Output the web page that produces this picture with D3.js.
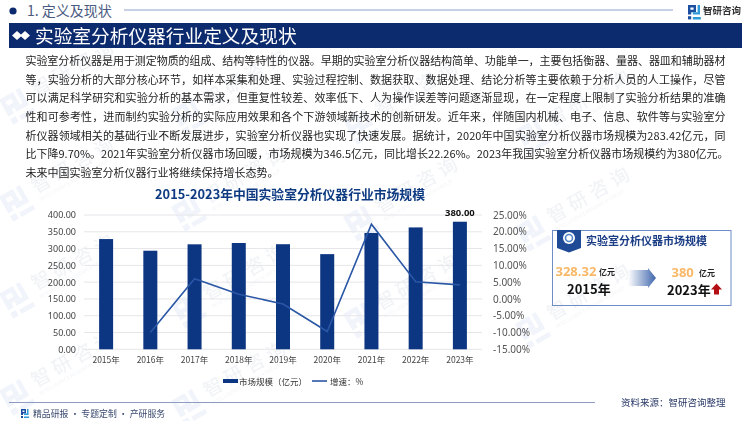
<!DOCTYPE html>
<html>
<head>
<meta charset="utf-8">
<script src="https://cdn.jsdelivr.net/npm/d3@7"></script>
<style>
  html, body { margin: 0; padding: 0; background: #fff; }
  svg { display: block; }
  text { font-family: "Noto Sans CJK SC", "Noto Sans", sans-serif; }
</style>
</head>
<body>
<div id="chart"></div>
<script>
// chart data
const years = ['2015年', '2016年', '2017年', '2018年', '2019年', '2020年', '2021年', '2022年', '2023年'];
const marketSize = [328.32, 293.6, 312.7, 316.6, 313, 283.42, 346.5, 363, 380];
const growth = [null, -10, 6, 1.4, -1.5, -9.7, 22.26, 5.1, 4.2];
const leftTicks = [0, 50, 100, 150, 200, 250, 300, 350, 400];
const rightTicks = [-15, -10, -5, 0, 5, 10, 15, 20, 25];

const paragraph = [
    '实验室分析仪器是用于测定物质的组成、结构等特性的仪器。早期的实验室分析仪器结构简单、功能单一，主要包括衡器、量器、器皿和辅助器材',
    '等，实验分析的大部分核心环节，如样本采集和处理、实验过程控制、数据获取、数据处理、结论分析等主要依赖于分析人员的人工操作，尽管',
    '可以满足科学研究和实验分析的基本需求，但重复性较差、效率低下、人为操作误差等问题逐渐显现，在一定程度上限制了实验分析结果的准确',
    '性和可参考性，进而制约实验分析的实际应用效果和各个下游领域新技术的创新研发。近年来，伴随国内机械、电子、信息、软件等与实验室分',
    '析仪器领域相关的基础行业不断发展进步，实验室分析仪器也实现了快速发展。据统计，2020年中国实验室分析仪器市场规模为283.42亿元，同',
    '比下降9.70%。2021年实验室分析仪器市场回暖，市场规模为346.5亿元，同比增长22.26%。2023年我国实验室分析仪器市场规模约为380亿元。',
    '未来中国实验室分析仪器行业将继续保持增长态势。'
];

const navy = '#0c2a6e';
const barBlue = '#0c3582';
const lineBlue = '#2a57a5';

const svg = d3.select('#chart').append('svg')
    .attr('width', 750)
    .attr('height', 421);

svg.append('rect').attr('width', 750).attr('height', 421).attr('fill', '#fff');

// the little company logo, two brackets and a dot
function logo(parent, x, y, s, colorA, colorB) {
    let g = parent.append('g').attr('transform', 'translate(' + x + ',' + y + ') scale(' + s + ')');
    g.append('path')
        .attr('d', 'M0 0H10V9H4V12H0V9H0ZM3 3V6H7V3Z')
        .attr('fill', colorA)
        .attr('fill-rule', 'evenodd');
    g.append('rect').attr('x', 0).attr('y', 14).attr('width', 4).attr('height', 4).attr('fill', colorA);
    g.append('path')
        .attr('d', 'M12 0H15V12H6V9H12ZM6 15H16V18H6Z')
        .attr('fill', colorB);
    return g;
}

// watermark tiles, only the ones whose text stays inside the page
let wm = svg.append('g').attr('opacity', 0.06);
d3.range(0, 5).forEach(function(c) {
    d3.range(0, 5).forEach(function(r) {
        let x = 18 + 172 * c;
        let y = 8 + 97 * r + 10 * c;
        if (y < 55 || y > 410 || x > 650) return;
        let g = wm.append('g').attr('transform', 'translate(' + x + ',' + y + ') rotate(-30)');
        logo(g, -14, -14, 1.6, '#1f5fb0', '#1f5fb0');
        g.append('text').attr('x', 20).attr('y', 2)
            .attr('font-size', 19).attr('font-weight', 500).attr('letter-spacing', 5).attr('fill', '#1a3a70')
            .text('智研咨询');
        g.append('text').attr('x', 20).attr('y', 11)
            .attr('font-size', 5).attr('fill', '#1a3a70')
            .text('INTELLIGENCE RESEARCH GROUP');
    });
});

// header
svg.append('circle').attr('cx', 13).attr('cy', 11).attr('r', 3.6).attr('fill', navy);
svg.append('text').attr('x', 27).attr('y', 16)
    .attr('font-size', 14).attr('fill', '#4a5a80')
    .text('1. 定义及现状');
svg.append('line').attr('x1', 124).attr('x2', 673).attr('y1', 10).attr('y2', 10)
    .attr('stroke', '#8fa2cc').attr('stroke-width', 1);
logo(svg, 688, 5, 0.8, '#1d4fa0', '#2f9ad8');
svg.append('text').attr('x', 703).attr('y', 14)
    .attr('font-size', 9.5).attr('font-weight', 700).attr('fill', '#333')
    .text('智研咨询');

svg.append('rect').attr('x', 9).attr('y', 23).attr('width', 733).attr('height', 25).attr('fill', navy);
svg.selectAll('.dia').data([17, 25]).enter().append('path')
    .attr('class', 'dia')
    .attr('transform', function(d) { return 'translate(' + d + ',35.5)'; })
    .attr('d', 'M-5 0L0 -4.5L5 0L0 4.5Z')
    .attr('fill', '#fff');
svg.append('text').attr('x', 35).attr('y', 42.5)
    .attr('font-size', 18.7).attr('fill', '#fff')
    .text('实验室分析仪器行业定义及现状');

// body text, justified to the same right edge as the original
svg.selectAll('.para').data(paragraph).enter().append('text')
    .attr('class', 'para')
    .attr('x', 25.5)
    .attr('y', function(d, i) { return 65 + i * 18.65; })
    .attr('font-size', 11)
    .attr('fill', '#222')
    .attr('textLength', function(d, i) { return i === 6 ? null : (i === 5 ? 703 : 700); })
    .attr('lengthAdjust', 'spacing')
    .text(function(d) { return d; });

// chart
const plotLeft = 84, plotRight = 482, plotTop = 215, plotBottom = 349.3;

const x = d3.scaleBand().domain(years).range([plotLeft, plotRight]);
const yLeft = d3.scaleLinear().domain([0, 400]).range([plotBottom, plotTop]);
const yRight = d3.scaleLinear().domain([-15, 25]).range([plotBottom, plotTop]);

svg.append('text').attr('x', 290).attr('y', 198.5)
    .attr('text-anchor', 'middle')
    .attr('font-size', 12.8).attr('font-weight', 700).attr('fill', '#0d3a80')
    .text('2015-2023年中国实验室分析仪器行业市场规模');

svg.append('g').selectAll('line').data(leftTicks).enter().append('line')
    .attr('x1', plotLeft).attr('x2', plotRight)
    .attr('y1', function(d) { return yLeft(d); })
    .attr('y2', function(d) { return yLeft(d); })
    .attr('stroke', '#e6e6ea').attr('stroke-width', 1);

let axisL = svg.append('g')
    .attr('transform', 'translate(' + plotLeft + ',0)')
    .call(d3.axisLeft(yLeft).tickValues(leftTicks).tickSize(0).tickPadding(8)
        .tickFormat(function(d) { return d.toFixed(2); }));
axisL.select('.domain').remove();
axisL.selectAll('text').attr('font-size', 9).attr('fill', '#444')
    .style('font-family', '"Noto Sans", sans-serif');

let axisR = svg.append('g')
    .attr('transform', 'translate(' + plotRight + ',0)')
    .call(d3.axisRight(yRight).tickValues(rightTicks).tickSize(0).tickPadding(11)
        .tickFormat(function(d) { return d.toFixed(2) + '%'; }));
axisR.select('.domain').remove();
axisR.selectAll('text').attr('font-size', 10).attr('fill', '#555')
    .style('font-family', '"Noto Sans", sans-serif');

let axisB = svg.append('g')
    .attr('transform', 'translate(0,' + plotBottom + ')')
    .call(d3.axisBottom(x).tickSize(0).tickPadding(8));
axisB.select('.domain').remove();
axisB.selectAll('text').attr('font-size', 8.5).attr('fill', '#444');

const barWidth = 14;
svg.append('g').selectAll('rect').data(marketSize).enter().append('rect')
    .attr('x', function(d, i) { return x(years[i]) + x.bandwidth() / 2 - barWidth / 2; })
    .attr('y', function(d) { return yLeft(d); })
    .attr('width', barWidth)
    .attr('height', function(d) { return plotBottom - yLeft(d); })
    .attr('fill', barBlue);

let growthLine = d3.line()
    .defined(function(d) { return d !== null; })
    .x(function(d, i) { return x(years[i]) + x.bandwidth() / 2; })
    .y(function(d) { return yRight(d); });

svg.append('path')
    .attr('d', growthLine(growth))
    .attr('fill', 'none')
    .attr('stroke', lineBlue)
    .attr('stroke-width', 1.6);

svg.append('text')
    .attr('x', x(years[8]) + x.bandwidth() / 2)
    .attr('y', yLeft(marketSize[8]) - 5.5)
    .attr('text-anchor', 'middle')
    .attr('font-size', 9.5).attr('font-weight', 700).attr('fill', '#111')
    .style('font-family', '"Noto Sans", sans-serif')
    .text(marketSize[8].toFixed(2));

// legend
svg.append('rect').attr('x', 223).attr('y', 379).attr('width', 15).attr('height', 4).attr('fill', barBlue);
svg.append('text').attr('x', 239).attr('y', 384.5).attr('font-size', 8.5).attr('fill', '#333').text('市场规模（亿元）');
svg.append('line').attr('x1', 312).attr('x2', 327).attr('y1', 381).attr('y2', 381)
    .attr('stroke', lineBlue).attr('stroke-width', 1.6);
svg.append('text').attr('x', 330).attr('y', 384.5).attr('font-size', 8.5).attr('fill', '#333').text('增速：%');

// side card
svg.append('rect').attr('x', 552.5).attr('y', 230.5).attr('width', 178.5).attr('height', 75)
    .attr('fill', 'none').attr('stroke', '#6f8dc4').attr('stroke-width', 1);
svg.append('path').attr('d', 'M557 230H581V248L569 252.5L557 248Z').attr('fill', '#1f4a96');
svg.append('circle').attr('cx', 569).attr('cy', 238).attr('r', 6).attr('fill', '#fff');
svg.append('circle').attr('cx', 569).attr('cy', 238).attr('r', 3.5).attr('fill', 'none')
    .attr('stroke', '#4f86c6').attr('stroke-width', 1.6);
svg.append('text').attr('x', 586).attr('y', 245)
    .attr('font-size', 11).attr('font-weight', 700).attr('fill', '#1b3d85')
    .text('实验室分析仪器市场规模');

svg.append('text').attr('x', 555.5).attr('y', 276)
    .attr('font-size', 13).attr('font-weight', 700).attr('fill', '#f9b868')
    .style('font-family', '"Noto Sans", sans-serif')
    .text('328.32');
svg.append('text').attr('x', 599).attr('y', 275).attr('font-size', 8).attr('font-weight', 700).attr('fill', '#222').text('亿元');
svg.append('text').attr('x', 567).attr('y', 294).attr('font-size', 13).attr('font-weight', 700).attr('fill', '#111').text('2015年');

let defs = svg.append('defs');
let grad = defs.append('linearGradient').attr('id', 'arrowGrad');
grad.append('stop').attr('offset', '0%').attr('stop-color', '#fff');
grad.append('stop').attr('offset', '100%').attr('stop-color', '#3f66ad');
svg.append('path')
    .attr('d', 'M628 270H648V268L656 278L648 288V286H628Z')
    .attr('fill', 'url(#arrowGrad)');

svg.append('text').attr('x', 671.5).attr('y', 277)
    .attr('font-size', 13).attr('font-weight', 700).attr('fill', '#f9b868')
    .style('font-family', '"Noto Sans", sans-serif')
    .text('380');
svg.append('text').attr('x', 699).attr('y', 276).attr('font-size', 8).attr('font-weight', 700).attr('fill', '#222').text('亿元');
svg.append('text').attr('x', 667).attr('y', 295).attr('font-size', 13).attr('font-weight', 700).attr('fill', '#111').text('2023年');
svg.append('path').attr('d', 'M716.5 283.5L722 289.5H719V294.5H714V289.5H711Z').attr('fill', '#b40f14');

// footer
svg.append('line').attr('x1', 9).attr('x2', 595).attr('y1', 402.5).attr('y2', 402.5)
    .attr('stroke', '#8f9cc0').attr('stroke-width', 1);
logo(svg, 21, 409, 0.5, '#1d4fa0', '#2f9ad8');
svg.append('text').attr('x', 33).attr('y', 417)
    .attr('font-size', 8.9).attr('fill', '#3a4a70')
    .text('精品研报 · 专题定制 · 产研服务');
svg.append('text').attr('x', 621).attr('y', 405.5)
    .attr('font-size', 9.5).attr('fill', '#2a3a68')
    .text('资料来源：智研咨询整理');
</script>
</body>
</html>
